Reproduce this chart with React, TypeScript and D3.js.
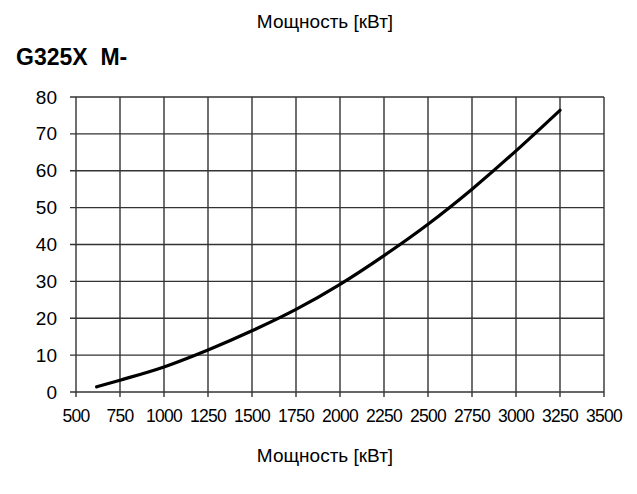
import React, { useEffect, useRef } from 'react';
import * as d3 from 'd3';

const title = 'Мощность [кВт]';
const model = 'G325X  M-';
const powerKw = [617, 750, 1000, 1250, 1500, 1750, 2000, 2250, 2500, 2750, 3000, 3250];
const values = [1.4, 3.2, 6.8, 11.4, 16.6, 22.4, 29.2, 37.0, 45.5, 55.0, 65.4, 76.4];
const xTicks = [500, 750, 1000, 1250, 1500, 1750, 2000, 2250, 2500, 2750, 3000, 3250, 3500];
const yTicks = [0, 10, 20, 30, 40, 50, 60, 70, 80];

const App = () => {
  const ref = useRef<SVGSVGElement>(null);

  useEffect(() => {
    const svg = d3.select(ref.current);
    svg.selectAll('*').remove();
    const left = 76, right = 604, top = 97, bottom = 392;

    const x = d3.scaleLinear().domain([500, 3500]).range([left, right]);
    const y = d3.scaleLinear().domain([0, 80]).range([bottom, top]);
    const font = 'Arial, "Liberation Sans", sans-serif';

    // grid
    const grid = svg.append('g').attr('stroke', '#333').attr('stroke-width', 1.4);
    grid.selectAll('.v').data(xTicks).enter().append('line')
      .attr('x1', d => x(d)).attr('x2', d => x(d))
      .attr('y1', top).attr('y2', bottom + 5);
    grid.selectAll('.h').data(yTicks).enter().append('line')
      .attr('x1', left - 6).attr('x2', right)
      .attr('y1', d => y(d)).attr('y2', d => y(d));

    // tick labels
    svg.append('g').selectAll('text').data(xTicks).enter().append('text')
      .attr('x', d => x(d)).attr('y', 422)
      .attr('text-anchor', 'middle')
      .style('font-family', font).style('font-size', '17.5px')
      .style('letter-spacing', '-0.7px')
      .text(d => d);
    svg.append('g').selectAll('text').data(yTicks).enter().append('text')
      .attr('x', 57).attr('y', d => y(d) + 6.5)
      .attr('text-anchor', 'end')
      .style('font-family', font).style('font-size', '19px')
      .text(d => d);

    // curve
    const line = d3.line<number>()
      .x((d, i) => x(powerKw[i]))
      .y(d => y(d))
      .curve(d3.curveMonotoneX);
    svg.append('path').datum(values)
      .attr('d', line)
      .attr('fill', 'none')
      .attr('stroke', '#000')
      .attr('stroke-width', 3.2)
      .attr('stroke-linecap', 'round');

    // titles
    svg.append('text').attr('x', 325).attr('y', 28).attr('text-anchor', 'middle')
      .style('font-family', font).style('font-size', '19px').text(title);
    svg.append('text').attr('x', 325).attr('y', 462).attr('text-anchor', 'middle')
      .style('font-family', font).style('font-size', '19px').text(title);
    svg.append('text').attr('x', 16).attr('y', 65)
      .style('font-family', font).style('font-size', '23px').style('font-weight', 'bold')
      .style('white-space', 'pre')
      .text(model);
  }, []);

  return (
    <svg ref={ref} width={637} height={494}
      style={{ position: 'absolute', left: 0, top: 0, background: '#fff' }} />
  );
};

export default App;
